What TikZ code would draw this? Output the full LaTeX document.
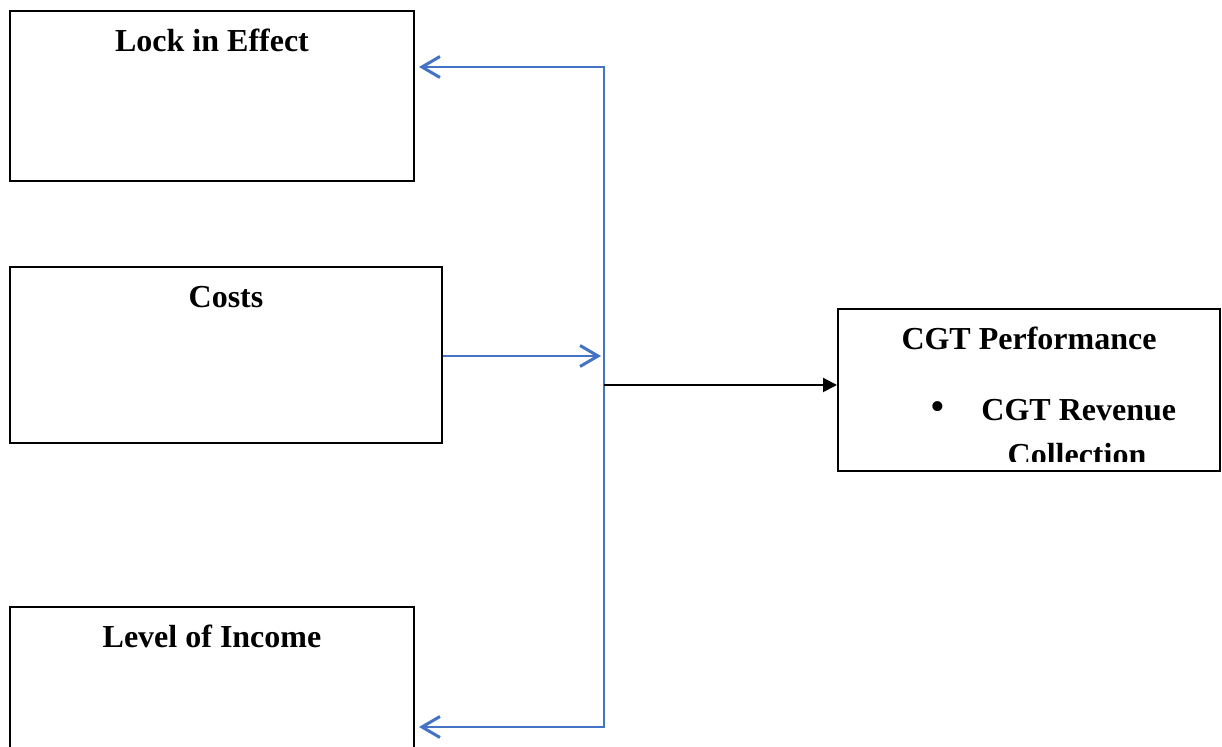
\documentclass[tikz,border=0pt]{standalone}
\usepackage{fontspec}
\setmainfont{Liberation Serif}
\usetikzlibrary{arrows.meta, positioning}
\definecolor{linkblue}{RGB}{68,114,196}
\tikzset{
  box/.style    = {draw, line width=1pt, rectangle, inner sep=0pt},
  head/.style   = {font=\fontsize{16}{19}\selectfont\bfseries, inner sep=0pt},
  bline/.style  = {draw=linkblue, line width=1.2pt},
  barr/.style   = {bline, -{Straight Barb[length=9pt, width=10.5pt, line width=1.5pt]}},
  karr/.style   = {line width=1pt, -{Triangle[length=7pt, width=7pt]}}
}

\begin{document}
\begin{tikzpicture}[x=0.5pt, y=-0.5pt]
  \useasboundingbox (0,0) rectangle (1222,747);
  % factor boxes
  \node[box, minimum width=202pt, minimum height=85pt] (lock)  at (212,96)  {};
  \node[box, minimum width=216pt, minimum height=88pt] (costs) at (226,355) {};
  \node[box, minimum width=202pt, minimum height=85pt] (level) at (212,692) {};
  \node[box, minimum width=191pt, minimum height=81pt] (cgt)   at (1029,390) {};
  \node[head, anchor=base] (locktxt)  at (212,52)  {Lock in Effect};
  \node[head, anchor=base] (coststxt) at (226,308) {Costs};
  \node[head, anchor=base] (leveltxt) at (212,648) {Level of Income};
  \node[head, anchor=base] (cgttxt)   at (1029,350) {CGT Performance};
  \node[head, font=\fontsize{21}{24}\selectfont] (bul) at (938,411) {\textbullet};
  \node[head, anchor=base west] (rev) at (981,421) {CGT Revenue};
  \begin{scope}
    \clip (838,309) rectangle (1220,462);
    \node[head, anchor=base] (coll) at (1077,466) {Collection};
  \end{scope}
  % connectors
  \coordinate (jtop)  at (604,67);
  \coordinate (jbot)  at (604,727);
  \coordinate (jcost) at (601,356);
  \coordinate (jmid)  at (604,385);
  \draw[bline, {Straight Barb[length=9pt, width=10.5pt, line width=1.5pt]}-{Straight Barb[length=9pt, width=10.5pt, line width=1.5pt]},
        shorten <=2pt, shorten >=2pt]
    (lock.east |- jtop) -- (jtop) -- (jbot) -- (level.east |- jbot);
  \draw[barr] (costs.east |- jcost) -- (jcost);
  \draw[karr] (jmid) -- (cgt.west |- jmid);
\end{tikzpicture}
\end{document}
